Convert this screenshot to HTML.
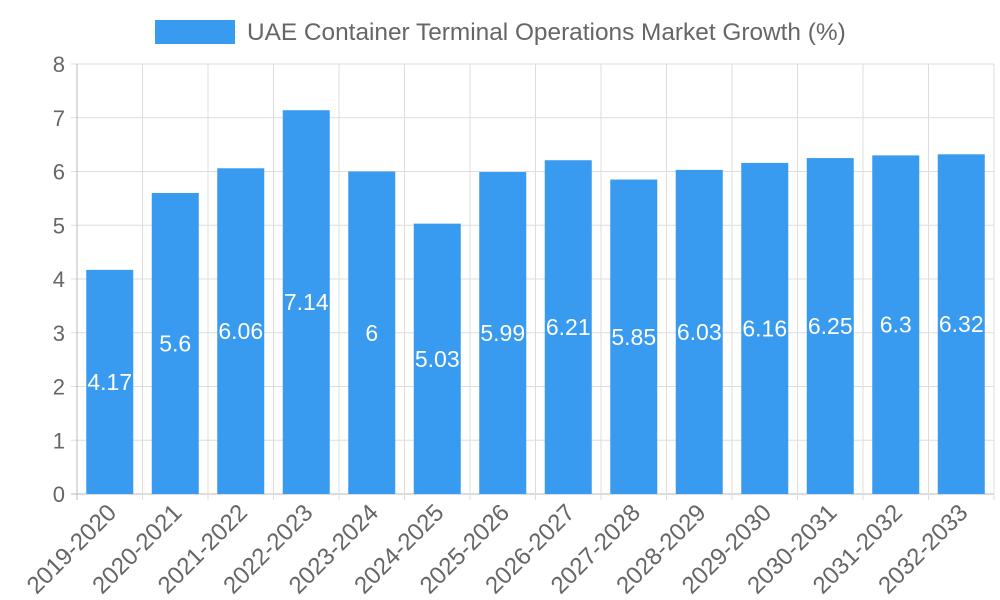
<!DOCTYPE html>
<html><head><meta charset="utf-8"><style>
body{margin:0;background:#fff;}
svg{display:block;font-family:"Liberation Sans",sans-serif;}
</style></head><body>
<svg id="chart" width="1000" height="600">
<g id="legend">
<rect x="155" y="20" width="80" height="24" fill="#389bf0"/>
<text x="247" y="40" font-size="24.4" fill="#666">UAE Container Terminal Operations Market Growth (%)</text>
</g>
<g id="grid"></g><g id="bars"></g><g id="labels"></g>
</svg>
<script>
const categories=["2019-2020","2020-2021","2021-2022","2022-2023","2023-2024","2024-2025","2025-2026","2026-2027","2027-2028","2028-2029","2029-2030","2030-2031","2031-2032","2032-2033"];
const values=[4.17,5.6,6.06,7.14,6,5.03,5.99,6.21,5.85,6.03,6.16,6.25,6.3,6.32];
const yTicks=[0,1,2,3,4,5,6,7,8];
const NS="http://www.w3.org/2000/svg";
const L=77,R=994,T=64,B=494,yMax=8;
const bw=(R-L)/categories.length;
const y=v=>B-(v/yMax)*(B-T);
const x=i=>L+i*bw;
function mk(tag,attrs,parent,txt){const e=document.createElementNS(NS,tag);for(const k in attrs)e.setAttribute(k,attrs[k]);if(txt!==undefined)e.textContent=txt;document.getElementById(parent).appendChild(e);return e;}
yTicks.forEach(t=>{
 const g=mk("line",{x1:L-6,x2:R,y1:y(t),y2:y(t),stroke:t===0?"#bbb":"#ddd","stroke-width":1},"grid");
 
 
 const tl=mk("text",{x:L-12,y:y(t)+8,"font-size":22,fill:"#666","text-anchor":"end"},"grid",String(t));
 
 
});
for(let i=0;i<=categories.length;i++){
 const g=mk("line",{x1:x(i),x2:x(i),y1:T,y2:B+6,stroke:i===0?"#bbb":"#ddd","stroke-width":1},"grid");
 
 
}
categories.forEach((c,i)=>{
 const cx=x(i)+bw/2;
 const b=mk("rect",{x:cx-23.5,y:y(values[i]),width:47,height:B-y(values[i]),fill:"#389bf0"},"bars");
 
 
 const v=mk("text",{x:cx,y:(y(values[i])+B)/2+8,"font-size":23,fill:"#fff","text-anchor":"middle"},"labels",String(values[i]));
 
 
 const tl=mk("text",{x:cx+8,y:B+20,"font-size":24,fill:"#666","text-anchor":"end",transform:`rotate(-45 ${cx+8} ${B+20})`},"labels",c);
 
 
});
</script>
</body></html>
